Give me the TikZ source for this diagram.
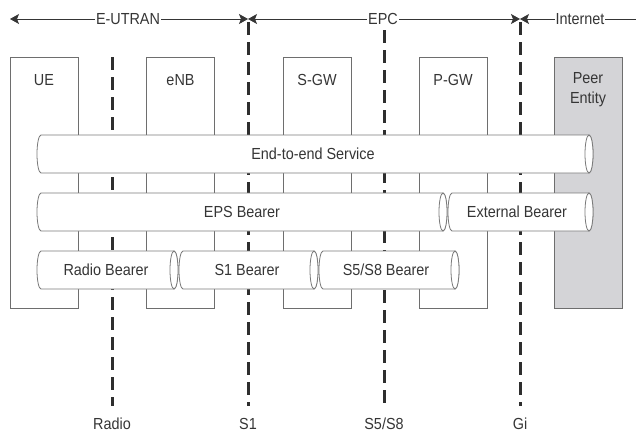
\documentclass[tikz,border=0pt]{standalone}
\usepackage{fontspec}
\setmainfont{Liberation Sans}[FakeStretch=0.9]
\usetikzlibrary{arrows.meta}
\definecolor{txtc}{HTML}{353535}
\definecolor{edgec}{HTML}{6E6E6E}
\definecolor{cylc}{HTML}{7A7A7A}
\definecolor{peerc}{HTML}{D4D4D7}
\definecolor{dashc}{HTML}{2E2E2E}
\newcommand\bearercyl[3]{%
  \draw[cylbody] ({#2-4},{#3-19}) -- ({#1+4},{#3-19})
    arc[start angle=270,end angle=90,x radius=4,y radius=19]
    -- ({#2-4},{#3+19})
    arc[start angle=90,end angle=-90,x radius=4,y radius=19] -- cycle;
  \draw[cylbody] ({#2-4},#3) ellipse[x radius=4,y radius=19];}
\begin{document}
\begin{tikzpicture}[x=1pt,y=-1pt,
  txt/.style={text=txtc,font=\fontsize{16}{20}\selectfont,inner sep=0pt},
  toplbl/.style={txt,fill=white,inner sep=1pt},
  netbox/.style={draw=edgec,line width=0.8pt,minimum width=68pt,minimum height=251pt,inner sep=0pt},
  ifline/.style={draw=dashc,line width=3pt,dash pattern=on 13pt off 7pt},
  cylbody/.style={draw=cylc,line width=0.8pt,fill=white},
  span/.style={draw=txtc,line width=0.9pt,{Stealth[length=9pt,width=10pt,inset=2pt]}-{Stealth[length=9pt,width=10pt,inset=2pt]}},
  spanr/.style={draw=txtc,line width=0.9pt,{Stealth[length=9pt,width=10pt,inset=2pt]}-}]
\useasboundingbox (0,0) rectangle (636,432);
% boxes
\node[netbox] (ue) at (44,182.5) {};
\node[netbox] (enb) at (180.5,182.5) {};
\node[netbox] (sgw) at (317,182.5) {};
\node[netbox] (pgw) at (453,182.5) {};
\node[netbox,fill=peerc] (peer) at (588,182.5) {};
\node[txt] (uel) at (44,80) {UE};
\node[txt] (enbl) at (180.5,80) {eNB};
\node[txt] (sgwl) at (317,80) {S-GW};
\node[txt] (pgwl) at (453,80) {P-GW};
\node[txt,align=center] (peerl) at (588,90) {Peer\\Entity};
% top spans
\coordinate (tl) at (10,19);
\coordinate (t1) at (248,19);
\coordinate (t2) at (520,19);
\coordinate (tr) at (636,19);
\draw[span] (tl) -- (t1);
\draw[span] (t1) -- (t2);
\draw[spanr] (t2) -- (tr);
\node[toplbl] (eutran) at (128,19) {E-UTRAN};
\node[toplbl] (epc) at (383,19) {EPC};
\node[toplbl] (inet) at (580,19) {Internet};
% interface lines
\coordinate (radtop) at (112,57);
\coordinate (radbot) at (112,406);
\coordinate (s1top) at (248,22);
\coordinate (s1bot) at (248,406);
\coordinate (s5top) at (384,30);
\coordinate (s5bot) at (384,406);
\coordinate (gitop) at (520,22);
\coordinate (gibot) at (520,406);
\draw[ifline] (radtop) -- (radbot);
\draw[ifline] (s1top) -- (s1bot);
\draw[ifline] (s5top) -- (s5bot);
\draw[ifline] (gitop) -- (gibot);
\node[txt] (radl) at (112,424) {Radio};
\node[txt] (s1l) at (248,424) {S1};
\node[txt] (s5l) at (384,424) {S5/S8};
\node[txt] (gil) at (520,424) {Gi};
% bearers
\bearercyl{37}{593}{154}
\node[txt] (e2e) at (313,154) {End-to-end Service};
\bearercyl{37}{447}{212}
\node[txt] (eps) at (242,212) {EPS Bearer};
\bearercyl{448}{593}{212}
\node[txt] (ext) at (517,212) {External Bearer};
\bearercyl{37}{178}{270}
\node[txt] (rb) at (106,270) {Radio Bearer};
\bearercyl{179}{318}{270}
\node[txt] (s1b) at (247,270) {S1 Bearer};
\bearercyl{319}{459}{270}
\node[txt] (s5b) at (386,270) {S5/S8 Bearer};
\end{tikzpicture}
\end{document}
